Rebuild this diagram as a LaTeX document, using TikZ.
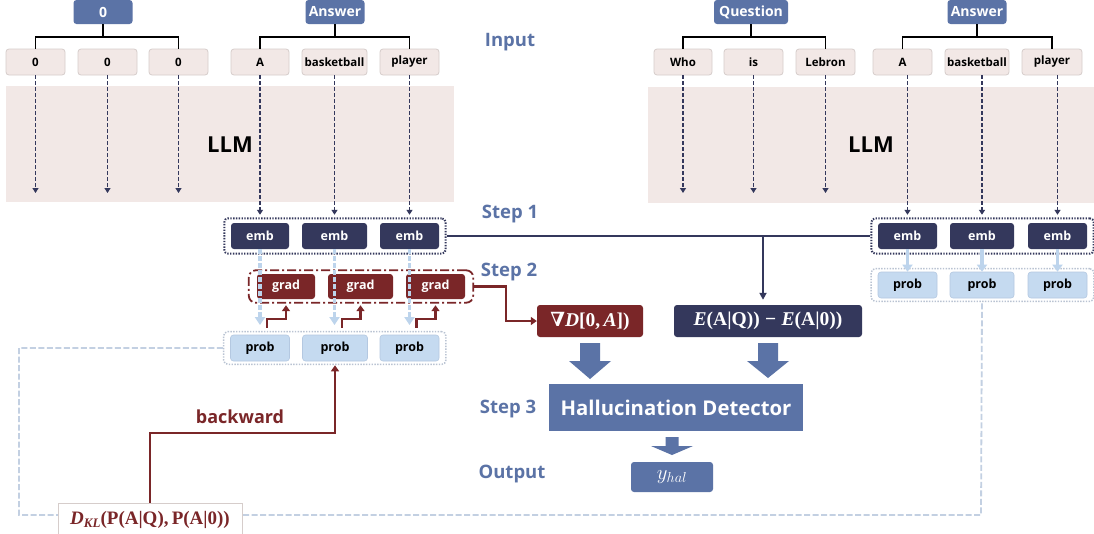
\documentclass[tikz,border=0pt]{standalone}
\usepackage{amsmath}
\usepackage[no-math]{fontspec}
\setmainfont{Open Sans}
\newfontfamily\lserif{Liberation Serif}
\newfontfamily\dserif{DejaVu Serif}
\usetikzlibrary{arrows.meta,fit}
\definecolor{steel}{RGB}{91,115,166}
\definecolor{navy}{RGB}{52,56,92}
\definecolor{dred}{RGB}{122,38,40}
\definecolor{lblue}{RGB}{197,218,240}
\definecolor{lbluebd}{RGB}{180,200,225}
\definecolor{lbarrow}{RGB}{189,212,236}
\definecolor{pinkbg}{RGB}{242,232,230}
\definecolor{tokbd}{RGB}{214,205,203}
\definecolor{fbc}{RGB}{195,208,226}
\definecolor{pcbd}{RGB}{185,195,210}
\newcommand\fsz[1]{\fontsize{#1}{#1}\selectfont}
\newcommand\gradtxt{{\bfseries{\dserif ∇}\lserif\itshape D\upshape[0,\,\itshape A\upshape])}}
\newcommand\difftxt{{\lserif\bfseries\itshape E\upshape(A|Q))\;−\;\itshape E\upshape(A|0))}}
\newcommand\kltxt{{\lserif\bfseries\itshape D{\fsz{13}\raisebox{-3pt}{KL}}\upshape(P(A|Q),\,P(A|0))}}
\begin{document}
\begin{tikzpicture}[x=1pt,y=-1pt,
  box/.style={rounded corners=3pt, inner sep=0pt, font=\bfseries\fsz{11.5}},
  tok/.style={box, fill=pinkbg, draw=tokbd, line width=0.8pt, minimum height=26pt},
  hdr/.style={box, fill=steel, text=white, minimum height=24pt, minimum width=59pt, font=\bfseries\fsz{14}},
  emb/.style={box, fill=navy, text=white, minimum height=26pt, font=\bfseries\fsz{12.5}},
  prob/.style={box, fill=lblue, draw=lbluebd, line width=0.6pt, minimum height=26pt, font=\bfseries\fsz{12.5}},
  grad/.style={box, fill=dred, text=white, minimum height=25pt, font=\bfseries\fsz{12.5}},
  feat/.style={rounded corners=3pt, inner sep=0pt, text=white, minimum height=32pt, font=\fsz{19.5}},
  lbl/.style={text=steel, font=\bfseries\fsz{18.5}},
  tree/.style={black, line width=1.3pt},
  darr/.style={navy, line width=1.8pt, dash pattern=on 4pt off 2pt, -{Triangle[length=5pt,width=6pt]}},
  lbarr/.style={lbarrow, line width=3.5pt, dash pattern=on 5pt off 2pt, -{Triangle[length=8pt,width=10pt]}},
  lbsolid/.style={lbarrow, line width=3.5pt, -{Triangle[length=7pt,width=10pt]}},
  redarr/.style={dred, line width=2.2pt, -{Triangle[length=6pt,width=8pt]}},
  fbline/.style={fbc, line width=1.8pt, dash pattern=on 6pt off 2.5pt},
  blockarr/.style={fill=steel},
  dotbox/.style={line width=2pt, dash pattern=on 1.4pt off 1.4pt, rounded corners=4pt},
]
\useasboundingbox (0,0) rectangle (1094,533);
\fill[white] (0,0) rectangle (1094,533);

% LLM backgrounds
\fill[pinkbg] (6,86) rectangle (454,202);
\fill[pinkbg] (648,87) rectangle (1094,203);
\node[font=\bfseries\fsz{22}] (llmL) at (230,145) {LLM};
\node[font=\bfseries\fsz{22}] (llmR) at (871,145) {LLM};

% headers
\node[hdr] (h0) at (103,12) {0};
\node[hdr] (hA) at (335,12) {Answer};
\node[hdr, minimum width=74pt] (hQ) at (751,12) {Question};
\node[hdr] (hB) at (977,12) {Answer};

% tokens
\node[tok, minimum width=59pt] (z1) at (35.5,62) {0};
\node[tok, minimum width=59pt] (z2) at (107.5,62) {0};
\node[tok, minimum width=59pt] (z3) at (178.5,62) {0};
\node[tok, minimum width=58pt] (a1) at (260,62) {A};
\node[tok, minimum width=65pt] (a2) at (334.5,62) {basketball};
\node[tok, minimum width=59pt] (a3) at (409.5,62) {player};
\node[tok, minimum width=58pt] (q1) at (683,62) {Who};
\node[tok, minimum width=59pt] (q2) at (753.5,62) {is};
\node[tok, minimum width=59pt] (q3) at (825.5,62) {Lebron};
\node[tok, minimum width=59pt] (b1) at (902.5,62) {A};
\node[tok, minimum width=64pt] (b2) at (977,62) {basketball};
\node[tok, minimum width=60pt] (b3) at (1052,62) {player};

% trees
\draw[tree] (h0.south) -- (h0.south |- 0,37);
\draw[tree] (z1.north) -- (z1.north |- 0,37) -- (z3.north |- 0,37) -- (z3.north);
\draw[tree] (hA.south) -- (hA.south |- 0,37);
\draw[tree] (a1.north) -- (a1.north |- 0,37) -- (a3.north |- 0,37) -- (a3.north);
\draw[tree] (hQ.south) -- (hQ.south |- 0,37);
\draw[tree] (q1.north) -- (q1.north |- 0,37) -- (q3.north |- 0,37) -- (q3.north);
\draw[tree] (hB.south) -- (hB.south |- 0,37);
\draw[tree] (b1.north) -- (b1.north |- 0,37) -- (b3.north |- 0,37) -- (b3.north);

% emb
\node[emb, minimum width=58pt] (e1) at (260,236) {emb};
\node[emb, minimum width=65pt] (e2) at (334.5,236) {emb};
\node[emb, minimum width=59pt] (e3) at (409.5,236) {emb};
\node[emb, minimum width=59pt] (f1) at (907.5,236) {emb};
\node[emb, minimum width=64pt] (f2) at (982,236) {emb};
\node[emb, minimum width=59pt] (f3) at (1057.5,236) {emb};
\node[fit=(e1)(e3), inner xsep=6.5pt, inner ysep=4.5pt, draw=navy, dotbox] (ec) {};
\node[fit=(f1)(f3), inner xsep=6.5pt, inner ysep=4.5pt, draw=navy, dotbox] (fc) {};

% dashed arrows through the LLM
\draw[darr] (z1.south) -- (z1.south |- 0,193);
\draw[darr] (z2.south) -- (z2.south |- 0,193);
\draw[darr] (z3.south) -- (z3.south |- 0,193);
\draw[darr] (q1.south) -- (q1.south |- 0,193);
\draw[darr] (q2.south) -- (q2.south |- 0,193);
\draw[darr] (q3.south) -- (q3.south |- 0,193);
\draw[darr] (e1.north |- a1.south) -- ([yshift=8pt]e1.north);
\draw[darr] (e2.north |- a2.south) -- ([yshift=8pt]e2.north);
\draw[darr] (e3.north |- a3.south) -- ([yshift=8pt]e3.north);
\draw[darr] (f1.north |- b1.south) -- ([yshift=8pt]f1.north);
\draw[darr] (f2.north |- b2.south) -- ([yshift=8pt]f2.north);
\draw[darr] (f3.north |- b3.south) -- ([yshift=8pt]f3.north);

% prob
\node[prob, minimum width=59pt] (p1) at (260,348) {prob};
\node[prob, minimum width=65pt] (p2) at (335,348) {prob};
\node[prob, minimum width=59pt] (p3) at (409.5,348) {prob};
\node[prob, minimum width=59pt] (r1) at (907.5,285) {prob};
\node[prob, minimum width=64pt] (r2) at (982,285) {prob};
\node[prob, minimum width=59pt] (r3) at (1057.5,285) {prob};
\node[fit=(p1)(p3), inner xsep=6.5pt, inner ysep=3pt, draw=pcbd, dotbox, line width=1.5pt] (pc) {};
\node[fit=(r1)(r3), inner xsep=6.5pt, inner ysep=3pt, draw=pcbd, dotbox, line width=1.5pt] (rc) {};

% grad
\node[grad, minimum width=58pt] (g1) at (286,286.5) {grad};
\node[grad, minimum width=65pt] (g2) at (360.5,286.5) {grad};
\node[grad, minimum width=59pt] (g3) at (435.5,286.5) {grad};
\node[fit=(g1)(g3), inner xsep=8pt, inner ysep=3.5pt, draw=dred, line width=1.8pt, dash pattern=on 9pt off 3pt on 2pt off 3pt, rounded corners=7pt] (gc) {};

% emb -> prob
\draw[lbarr] (e1.south) -- (e1.south |- 0,325);
\draw[lbarr] (e2.south) -- (e2.south |- 0,325);
\draw[lbarr] (e3.south) -- (e3.south |- 0,325);
\draw[lbsolid] (f1.south) -- (r1.north);
\draw[lbsolid] (f2.south) -- (r2.north);
\draw[lbsolid] (f3.south) -- (r3.north);

% prob -> grad
\draw[redarr] ([xshift=7pt,yshift=7pt]p1.north) -- ++(0,-9) -| ([yshift=-6pt]g1.south);
\draw[redarr] ([xshift=7pt,yshift=7pt]p2.north) -- ++(0,-9) -| ([yshift=-6pt]g2.south);
\draw[redarr] ([xshift=7pt,yshift=7pt]p3.north) -- ++(0,-9) -| ([yshift=-6pt]g3.south);

% step labels
\node[lbl] (sIn) at (510,42) {Input};
\node[lbl] (s1) at (510,214) {Step 1};
\node[lbl] (s2) at (509,272) {Step 2};
\node[lbl] (s3) at (508,409) {Step 3};
\node[lbl] (sOut) at (512,474) {Output};

% feature boxes
\node[feat, fill=dred, minimum width=106pt] (gradfeat) at (590,321) {\gradtxt};
\node[feat, fill=navy, minimum width=188pt] (difffeat) at (768,321) {\difftxt};

\draw[redarr] (gc.east) -- ++(32,0) |- (gradfeat.west);
\draw[navy, line width=2pt] (ec.east) -- (fc.west);
\draw[navy, line width=1.8pt, -{Triangle[length=7pt,width=7pt]}] ([xshift=-5pt]difffeat.north |- ec.east) -- ([xshift=-5pt,yshift=5pt]difffeat.north);

% detector
\node[fill=steel, text=white, inner sep=0pt, minimum width=254pt, minimum height=47pt, font=\bfseries\fsz{20.3}] (det) at (676,407.5) {Hallucination Detector};
\node[feat, fill=steel, minimum width=82pt, minimum height=30pt, font=\fsz{22}] (yh) at (672,477) {$y_{hal}$};

% block arrows
\fill[blockarr] (580,343) -- (600,343) -- (600,361) -- (611,361) -- (590,379) -- (569,361) -- (580,361) -- cycle;
\fill[blockarr] (758,343) -- (778,343) -- (778,361) -- (789,361) -- (768,378) -- (747,361) -- (758,361) -- cycle;
\fill[blockarr] (665.5,437) -- (678.5,437) -- (678.5,446) -- (693,446) -- (672,455) -- (651,446) -- (665.5,446) -- cycle;

% feedback loop
\draw[fbline] (pc.west) -| (19,515) -- (981,515) -- (r2.south |- rc.south);
\node[draw=tokbd, fill=white, line width=0.8pt, inner sep=0pt, minimum width=184pt, minimum height=34pt, text=dred, font=\fsz{19}] (dkl) at (150,520) {\kltxt};
\draw[redarr] (dkl.north) -- (dkl.north |- 0,433) -| ([yshift=-4pt]p2.south);
\node[text=dred, font=\bfseries\fsz{18}] (bw) at (240,417) {backward};
\end{tikzpicture}
\end{document}
